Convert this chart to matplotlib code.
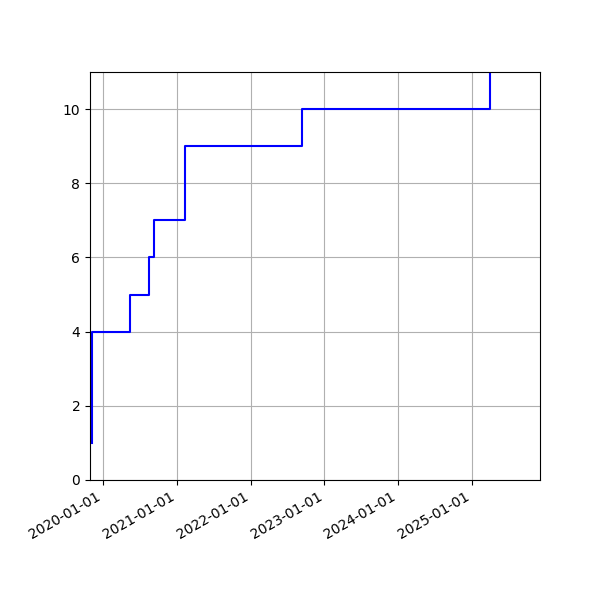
import matplotlib
matplotlib.use("Agg")
import matplotlib.pyplot as plt
import matplotlib.dates as mdates
import datetime as dt

dates = ["2019-11-07", "2019-11-08", "2019-11-09", "2019-11-10", "2020-05-14",
         "2020-08-16", "2020-09-10", "2021-02-08", "2021-02-09", "2022-09-11",
         "2025-03-31"]
counts = [1, 2, 3, 4, 5, 6, 7, 8, 9, 10, 11]
xlim = ["2019-10-29", "2025-12-04"]

x = [dt.datetime.strptime(d, "%Y-%m-%d") for d in dates]

fig, ax = plt.subplots(figsize=(6, 6), dpi=100)
ax.plot(x, counts, drawstyle="steps-post", color="blue", linewidth=1.5)
ax.set_xlim(dt.datetime.strptime(xlim[0], "%Y-%m-%d"), dt.datetime.strptime(xlim[1], "%Y-%m-%d"))
ax.set_ylim(0, 11)
ax.xaxis.set_major_locator(mdates.YearLocator())
ax.xaxis.set_major_formatter(mdates.DateFormatter("%Y-%m-%d"))
ax.grid(True)
fig.autofmt_xdate()
fig.subplots_adjust(left=0.15, right=0.9, top=0.88, bottom=0.2)
fig.savefig("out.png", dpi=100)
